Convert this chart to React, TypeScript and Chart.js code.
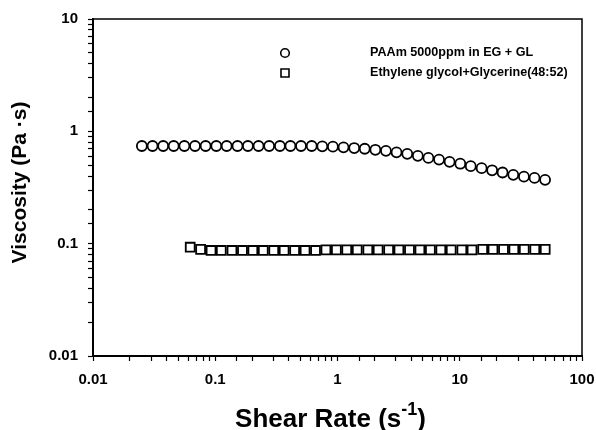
import React, { useEffect, useRef } from 'react';
import { Chart, registerables } from 'chart.js';

Chart.register(...registerables);

const seriesNames = ['PAAm 5000ppm in EG + GL', 'Ethylene glycol+Glycerine(48:52)'];

const paamShearRate = [
  0.0251, 0.0307, 0.0375, 0.0457, 0.0559, 0.0683, 0.0834, 0.102, 0.124, 0.152,
  0.185, 0.226, 0.276, 0.338, 0.412, 0.503, 0.615, 0.751, 0.917, 1.12,
  1.37, 1.67, 2.04, 2.49, 3.04, 3.72, 4.54, 5.54, 6.77, 8.26,
  10.1, 12.3, 15.1, 18.4, 22.4, 27.4, 33.5, 40.9, 49.9,
];
const paamViscosity = [
  0.74, 0.74, 0.74, 0.74, 0.74, 0.74, 0.74, 0.74, 0.74, 0.74,
  0.74, 0.74, 0.74, 0.74, 0.74, 0.74, 0.74, 0.735, 0.73, 0.72,
  0.71, 0.70, 0.685, 0.67, 0.65, 0.63, 0.605, 0.58, 0.56, 0.535,
  0.515, 0.49, 0.47, 0.45, 0.43, 0.41, 0.395, 0.385, 0.37,
];

const eggShearRate = [
  0.0624, 0.0759, 0.0924, 0.112, 0.137, 0.167, 0.203, 0.247, 0.301, 0.366,
  0.446, 0.543, 0.661, 0.804, 0.979, 1.19, 1.45, 1.77, 2.15, 2.62,
  3.18, 3.88, 4.72, 5.75, 7.0, 8.51, 10.4, 12.6, 15.4, 18.7,
  22.8, 27.7, 33.7, 41.1, 50.0,
];
const eggViscosity = [
  0.093, 0.089, 0.087, 0.087, 0.087, 0.087, 0.087, 0.087, 0.087, 0.087,
  0.087, 0.087, 0.087, 0.088, 0.088, 0.088, 0.088, 0.088, 0.088, 0.088,
  0.088, 0.088, 0.088, 0.088, 0.088, 0.088, 0.088, 0.088, 0.089, 0.089,
  0.089, 0.089, 0.089, 0.089, 0.089,
];

const xTickLabels = ['0.01', '0.1', '1', '10', '100'];
const yTickLabels = ['0.01', '0.1', '1', '10'];
const yTitle = 'Viscosity (Pa ·s)';
const xTitleMain = 'Shear Rate (s';
const xTitleSup = '-1';
const xTitleEnd = ')';

const FONT = '"Liberation Sans", Arial, Helvetica, sans-serif';

const labelFor = (labels: string[], value: number) => {
  const l = Math.log10(value);
  const r = Math.round(l);
  if (Math.abs(l - r) > 1e-6) return '';
  return labels[r + 2] ?? '';
};

const decor = {
  id: 'decor',
  afterDraw(chart: any) {
    const { ctx, chartArea: a } = chart;
    ctx.save();
    ctx.strokeStyle = '#000';
    ctx.lineWidth = 1.5;
    ctx.beginPath();
    ctx.moveTo(a.left, a.top);
    ctx.lineTo(a.right, a.top);
    ctx.lineTo(a.right, a.bottom);
    ctx.stroke();

    // legend
    const mx = a.left + 192;
    const tx = a.left + 277;
    const rows = [a.top + 34, a.top + 54];
    ctx.lineWidth = 1.6;
    ctx.fillStyle = '#fff';
    ctx.beginPath();
    ctx.arc(mx, rows[0], 4.3, 0, Math.PI * 2);
    ctx.fill();
    ctx.stroke();
    ctx.beginPath();
    ctx.rect(mx - 4, rows[1] - 4, 8, 8);
    ctx.fill();
    ctx.stroke();
    ctx.fillStyle = '#000';
    ctx.font = `bold 12.6px ${FONT}`;
    ctx.textAlign = 'left';
    ctx.textBaseline = 'middle';
    ctx.fillText(seriesNames[0], tx, rows[0]);
    ctx.fillText(seriesNames[1], tx, rows[1]);

    // y title
    ctx.save();
    ctx.translate(20, (a.top + a.bottom) / 2 - 5);
    ctx.rotate(-Math.PI / 2);
    ctx.font = `bold 21px ${FONT}`;
    ctx.textAlign = 'center';
    ctx.textBaseline = 'middle';
    ctx.fillText(yTitle, 0, 0);
    ctx.restore();

    // x title with superscript
    ctx.font = `bold 26px ${FONT}`;
    const w1 = ctx.measureText(xTitleMain).width;
    const w3 = ctx.measureText(xTitleEnd).width;
    ctx.font = `bold 18px ${FONT}`;
    const w2 = ctx.measureText(xTitleSup).width;
    const total = w1 + w2 + w3;
    const cx = (a.left + a.right) / 2 - 7;
    let x0 = cx - total / 2;
    const base = 427;
    ctx.textAlign = 'left';
    ctx.textBaseline = 'alphabetic';
    ctx.font = `bold 26px ${FONT}`;
    ctx.fillText(xTitleMain, x0, base);
    x0 += w1;
    ctx.font = `bold 18px ${FONT}`;
    ctx.fillText(xTitleSup, x0, base - 12);
    x0 += w2;
    ctx.font = `bold 26px ${FONT}`;
    ctx.fillText(xTitleEnd, x0, base);
    ctx.restore();
  },
};

export default function App() {
  const ref = useRef<HTMLCanvasElement | null>(null);

  useEffect(() => {
    if (!ref.current) return;
    const tickFont = { family: FONT, size: 15, weight: 'bold' as const };
    const chart = new Chart(ref.current, {
      type: 'scatter',
      data: {
        datasets: [
          {
            label: seriesNames[0],
            data: paamShearRate.map((x, i) => ({ x, y: paamViscosity[i] })),
            pointStyle: 'circle',
            pointRadius: 5,
            pointBorderWidth: 1.8,
            borderColor: '#000',
            backgroundColor: '#fff',
            showLine: false,
          },
          {
            label: seriesNames[1],
            data: eggShearRate.map((x, i) => ({ x, y: eggViscosity[i] })),
            pointStyle: 'rect',
            pointRadius: 6.3,
            pointBorderWidth: 1.8,
            borderColor: '#000',
            backgroundColor: '#fff',
            showLine: false,
          },
        ],
      },
      options: {
        animation: false,
        responsive: false,
        devicePixelRatio: 1,
        layout: { padding: { left: 0, right: 14, top: 19, bottom: 0 } },
        plugins: { legend: { display: false }, tooltip: { enabled: false } },
        scales: {
          x: {
            type: 'logarithmic',
            min: 0.01,
            max: 100,
            position: 'bottom',
            grid: { drawOnChartArea: false, tickLength: 5, tickColor: '#000', tickWidth: 1.2 },
            border: { display: true, color: '#000', width: 2 },
            ticks: {
              autoSkip: false,
              maxRotation: 0,
              padding: 10,
              color: '#000',
              font: tickFont,
              callback: (v: any) => labelFor(xTickLabels, Number(v)),
            },
            afterFit: (s: any) => {
              s.height = 74;
              s.paddingLeft = 0;
              s.paddingRight = 0;
            },
          },
          y: {
            type: 'logarithmic',
            min: 0.01,
            max: 10,
            position: 'left',
            grid: { drawOnChartArea: false, tickLength: 5, tickColor: '#000', tickWidth: 1.2 },
            border: { display: true, color: '#000', width: 2 },
            ticks: {
              autoSkip: false,
              padding: 10,
              color: '#000',
              font: tickFont,
              callback: (v: any) => labelFor(yTickLabels, Number(v)),
            },
            afterFit: (s: any) => {
              s.width = 93;
              s.paddingTop = 0;
              s.paddingBottom = 0;
            },
          },
        },
      },
      plugins: [decor],
    });
    return () => chart.destroy();
  }, []);

  return (
    <div style={{ position: 'absolute', left: 0, top: 0, width: 596, height: 430, background: '#fff' }}>
      <canvas ref={ref} width={596} height={430} />
    </div>
  );
}
